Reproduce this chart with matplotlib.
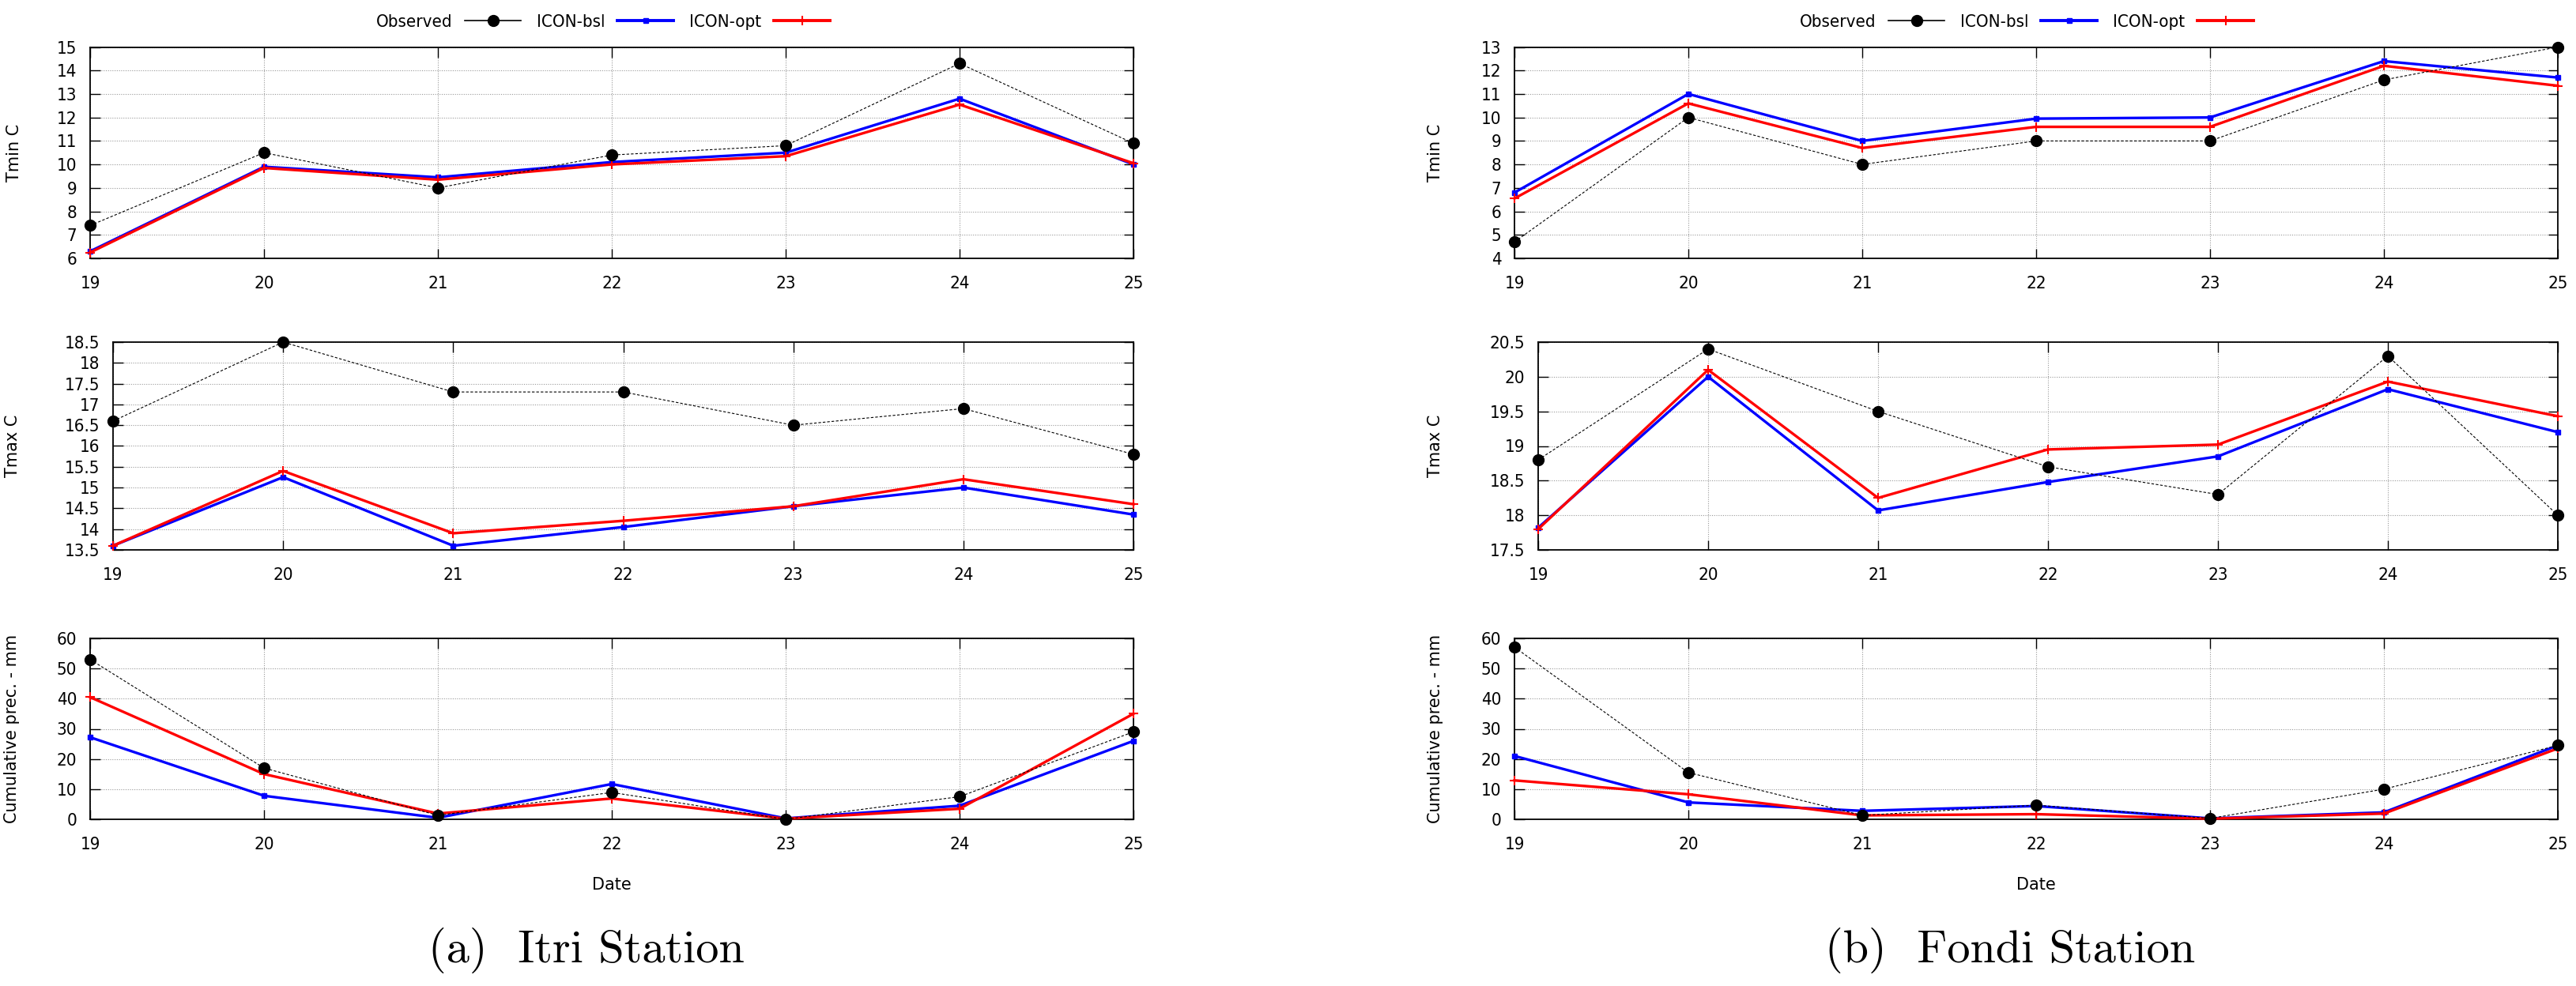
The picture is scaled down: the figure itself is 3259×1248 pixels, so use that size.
import matplotlib
matplotlib.use("Agg")
import matplotlib.pyplot as plt
from matplotlib.lines import Line2D
from matplotlib import font_manager as fm

days = [19, 20, 21, 22, 23, 24, 25]
series_names = ["Observed", "ICON-bsl", "ICON-opt"]

# Itri station
itri_tmin_obs = [7.4, 10.5, 9.0, 10.4, 10.8, 14.3, 10.9]
itri_tmin_bsl = [6.3, 9.9, 9.45, 10.1, 10.5, 12.8, 10.0]
itri_tmin_opt = [6.25, 9.85, 9.35, 10.0, 10.35, 12.55, 10.05]

itri_tmax_obs = [16.6, 18.5, 17.3, 17.3, 16.5, 16.9, 15.8]
itri_tmax_bsl = [13.6, 15.25, 13.6, 14.05, 14.55, 15.0, 14.35]
itri_tmax_opt = [13.6, 15.4, 13.9, 14.2, 14.55, 15.2, 14.6]

itri_prec_obs = [53.0, 17.0, 1.3, 8.9, 0.0, 7.5, 29.0]
itri_prec_bsl = [27.2, 7.8, 0.5, 11.7, 0.3, 4.5, 26.0]
itri_prec_opt = [40.5, 15.0, 1.9, 6.9, 0.2, 3.5, 35.0]

# Fondi station
fondi_tmin_obs = [4.7, 10.0, 8.0, 9.0, 9.0, 11.6, 13.0]
fondi_tmin_bsl = [6.8, 11.0, 9.0, 9.95, 10.0, 12.4, 11.7]
fondi_tmin_opt = [6.55, 10.6, 8.7, 9.6, 9.6, 12.2, 11.35]

fondi_tmax_obs = [18.8, 20.4, 19.5, 18.7, 18.3, 20.3, 18.0]
fondi_tmax_bsl = [17.82, 20.0, 18.07, 18.48, 18.85, 19.82, 19.2]
fondi_tmax_opt = [17.8, 20.1, 18.25, 18.95, 19.02, 19.93, 19.43]

fondi_prec_obs = [57.1, 15.5, 1.3, 4.7, 0.3, 10.0, 24.5]
fondi_prec_bsl = [21.0, 5.6, 2.8, 4.4, 0.3, 2.3, 24.5]
fondi_prec_opt = [12.9, 8.3, 1.3, 1.7, 0.2, 1.9, 23.5]

ylabels = ["Tmin C", "Tmax C", "Cumulative prec. - mm"]
captions = ["(a)  Itri Station", "(b)  Fondi Station"]

W, H = 3259, 1248
fig = plt.figure(figsize=(W / 100, H / 100), dpi=100)

# detect a condensed sans for tick labels
tick_family = "DejaVu Sans"
tick_stretch = "normal"
try:
    fp = fm.FontProperties(family="DejaVu Sans", stretch="condensed")
    f = fm.findfont(fp, fallback_to_default=False)
    if "Condensed" in f:
        tick_stretch = "condensed"
except Exception:
    pass

def px_axes(x0, x1, y0, y1):
    return fig.add_axes([x0 / W, 1 - y1 / H, (x1 - x0) / W, (y1 - y0) / H])

# pixel boxes (x0, x1, y0, y1)
boxes = {
    (0, 0): (114, 1434, 59.5, 327),
    (0, 1): (143, 1434, 433, 696),
    (0, 2): (114, 1434, 808, 1037),
    (1, 0): (1916, 3236, 59.5, 327),
    (1, 1): (1946, 3236, 433, 696),
    (1, 2): (1916, 3236, 808, 1037),
}
ylabel_x = {(0, 0): 28, (0, 1): 26, (0, 2): 25, (1, 0): 1826, (1, 1): 1826, (1, 2): 1826}

data = {
    (0, 0): (itri_tmin_obs, itri_tmin_bsl, itri_tmin_opt),
    (0, 1): (itri_tmax_obs, itri_tmax_bsl, itri_tmax_opt),
    (0, 2): (itri_prec_obs, itri_prec_bsl, itri_prec_opt),
    (1, 0): (fondi_tmin_obs, fondi_tmin_bsl, fondi_tmin_opt),
    (1, 1): (fondi_tmax_obs, fondi_tmax_bsl, fondi_tmax_opt),
    (1, 2): (fondi_prec_obs, fondi_prec_bsl, fondi_prec_opt),
}
ylims = {
    (0, 0): (6, 15, 1), (0, 1): (13.5, 18.5, 0.5), (0, 2): (0, 60, 10),
    (1, 0): (4, 13, 1), (1, 1): (17.5, 20.5, 0.5), (1, 2): (0, 60, 10),
}

obs_style = dict(color="black", lw=0.8, ls=(0, (3, 2)), marker="o", ms=10,
                 mfc="black", mec="black", zorder=5, clip_on=False)
bsl_style = dict(color="#0000ff", lw=2.4, marker="s", ms=4.5, zorder=3, clip_on=False)
opt_style = dict(color="#ff0000", lw=2.4, marker="+", ms=8, mew=1.5, zorder=4, clip_on=False)

for (col, row), (x0, x1, y0, y1) in boxes.items():
    ax = px_axes(x0, x1, y0, y1)
    obs, bsl, opt = data[(col, row)]
    ax.plot(days, bsl, **bsl_style)
    ax.plot(days, opt, **opt_style)
    ax.plot(days, obs, **obs_style)
    lo, hi, st = ylims[(col, row)]
    ax.set_xlim(19, 25)
    ax.set_ylim(lo, hi)
    n = int(round((hi - lo) / st))
    yt = [lo + i * st for i in range(n + 1)]
    ax.set_yticks(yt)
    ax.set_yticklabels([("%g" % v) for v in yt])
    ax.set_xticks(days)
    ax.set_xticklabels([str(d) for d in days])
    ax.grid(True, color="#9a9a9a", ls=(0, (1, 1.5)), lw=0.8)
    ax.tick_params(direction="in", top=True, right=True, length=9, width=1,
                   labelsize=16, pad=12)
    ax.tick_params(axis="x", pad=16)
    for lab in ax.get_xticklabels() + ax.get_yticklabels():
        lab.set_family(tick_family)
        lab.set_stretch(tick_stretch)
    for sp in ax.spines.values():
        sp.set_linewidth(1.3)
    ax.set_ylabel(ylabels[row], fontsize=15)
    ax.yaxis.set_label_coords((ylabel_x[(col, row)] - x0) / (x1 - x0), 0.5)
    if row == 2:
        ax.set_xlabel("Date", fontsize=15, labelpad=22)

# legends
handles = [
    Line2D([], [], color="black", lw=1.2, marker="o", ms=10),
    Line2D([], [], color="#0000ff", lw=2.8, marker="s", ms=4.5),
    Line2D([], [], color="#ff0000", lw=2.8, marker="+", ms=8, mew=1.5),
]
for cx in (763, 2564):
    leg = fig.legend(handles, series_names, loc="center", bbox_to_anchor=(cx / W, 1 - 28 / H),
                     ncol=3, frameon=False, markerfirst=False, fontsize=16,
                     handlelength=3.2, handletextpad=0.7, columnspacing=0.9)
    for t in leg.get_texts():
        t.set_stretch(tick_stretch)

# captions
fig.text(742 / W, 1 - 1203 / H, captions[0], ha="center", va="center",
         fontsize=42, family="cmr10")
fig.text(2543 / W, 1 - 1203 / H, captions[1], ha="center", va="center",
         fontsize=42, family="cmr10")

fig.savefig("out.png", dpi=100, facecolor="white")
